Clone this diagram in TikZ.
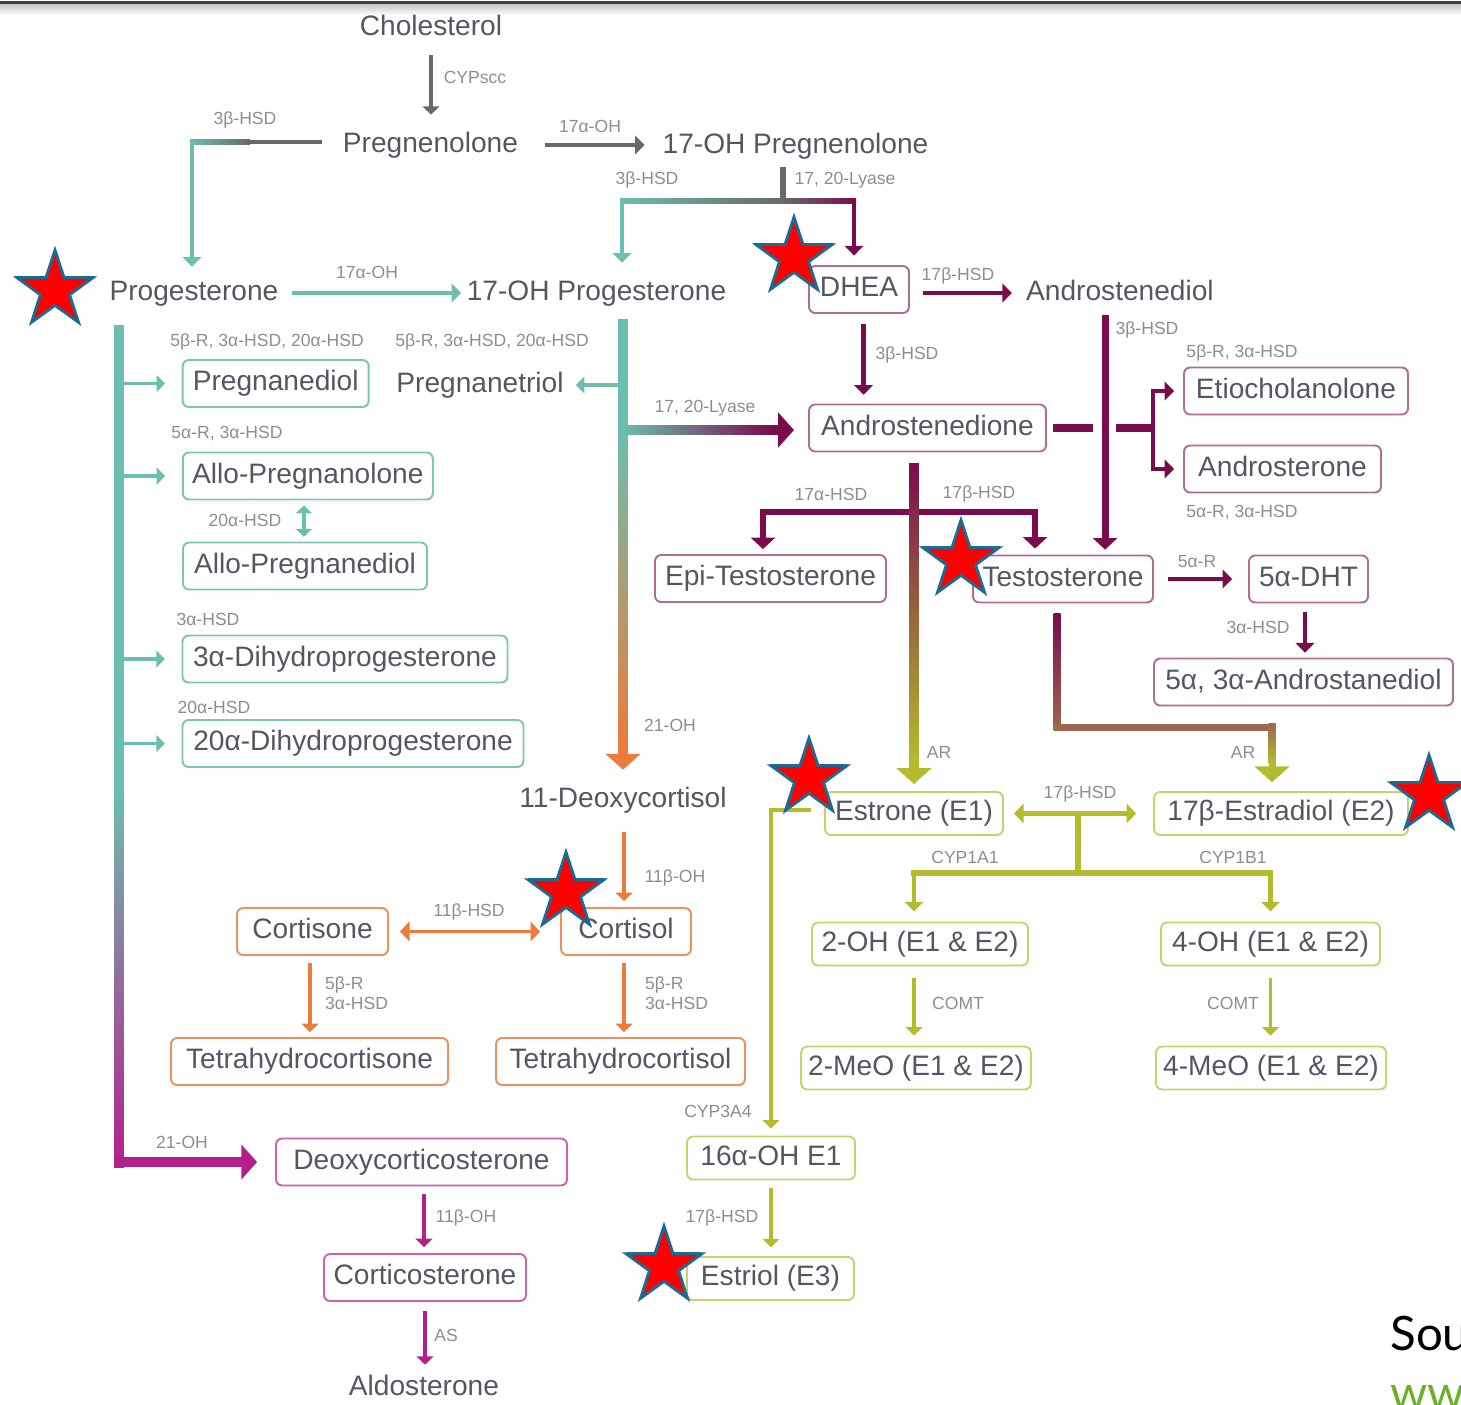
\documentclass[tikz,border=0pt]{standalone}
\usepackage{fontspec}
\setmainfont{Liberation Sans}
\newfontfamily\srcfont{Lato}
\usetikzlibrary{arrows.meta,calc,shapes.geometric}

\definecolor{cTeal}{RGB}{108,190,174}
\definecolor{cPlum}{RGB}{122,12,78}
\definecolor{cOrange}{RGB}{237,123,59}
\definecolor{cOlive}{RGB}{180,188,46}
\definecolor{cMag}{RGB}{181,31,140}
\definecolor{cGrey}{RGB}{104,104,106}
\definecolor{cBrown}{RGB}{158,104,80}
\definecolor{cText}{RGB}{84,86,98}
\definecolor{cLabel}{RGB}{140,140,150}
\definecolor{cStar}{RGB}{26,108,148}
\definecolor{cWeb}{RGB}{108,176,42}
\colorlet{bTeal}{cTeal!90!white}
\colorlet{bPlum}{cPlum!60!white}
\colorlet{bOrange}{cOrange!85!white}
\colorlet{bOlive}{cOlive!70!white}
\colorlet{bMag}{cMag!70!white}

% shaded straight pieces: from, to, first colour, second colour, width
\newcommand{\vgrad}[5]{\shade[top color=#3, bottom color=#4] let \p1=(#1), \p2=(#2) in (\x1-#5/2,\y1) rectangle (\x2+#5/2,\y2);}
\newcommand{\hgrad}[5]{\shade[left color=#3, right color=#4] let \p1=(#1), \p2=(#2) in (\x1,\y1-#5/2) rectangle (\x2,\y2+#5/2);}

\tikzset{
  chem/.style={font=\fontsize{16}{18}\selectfont, text=cText, text height=11.5pt, text depth=3.4pt, inner sep=3pt},
  cbox/.style={chem, draw=#1, line width=1.1pt, rounded corners=3.5pt, inner xsep=4pt, minimum height=0.94cm},
  obox/.style={cbox=#1, minimum height=0.86cm},
  wd/.style={minimum width=#1*0.02cm},
  enz/.style={font=\fontsize{10}{11.5}\selectfont, text=cLabel, inner sep=1pt},
  thinarrow/.style={-{Triangle[length=4.8pt,width=9.5pt]}, line width=1.8pt},
  arrow/.style={-{Triangle[length=5.5pt,width=10.5pt]}, line width=2.4pt},
  thickarrow/.style={-{Triangle[length=6.5pt,width=13.5pt]}, line width=3.6pt},
  fatarrow/.style={-{Triangle[length=9pt,width=19.5pt]}, line width=5.5pt},
  thindbl/.style={{Triangle[length=4.5pt,width=9pt]}-{Triangle[length=4.5pt,width=9pt]}, line width=1.8pt},
  dblarrow/.style={{Triangle[length=5.5pt,width=11pt]}-{Triangle[length=5.5pt,width=11pt]}, line width=2.6pt},
  hotstar/.style={star, star points=5, star point ratio=2.6, fill=red, draw=cStar, line width=1.6pt, minimum size=1.6cm, inner sep=0pt}
}

\begin{document}
\begin{tikzpicture}[x=0.02cm, y=-0.02cm]
\useasboundingbox (0,0) rectangle (1461,1404);
\clip (0,0) rectangle (1461,1404);
% top edge of the screen shot
\shade[top color=black!25, bottom color=white] (0,3) rectangle (1461,15);
\draw[line width=1.2pt, black!75] (0,2.5) -- (1461,2.5);

% plain names
\node[chem] (chol)    at (431,28)    {Cholesterol};
\node[chem] (pregn)   at (430.5,145) {Pregnenolone};
\node[chem] (ohpregn) at (795.5,146) {17-OH Pregnenolone};
\node[chem] (prog)    at (194,293)   {Progesterone};
\node[chem] (ohprog)  at (596.5,293) {17-OH Progesterone};
\node[chem] (andiol)  at (1120,293)  {Androstenediol};
\node[chem] (ptriol)  at (480,385)   {Pregnanetriol};
\node[chem] (deoxcol) at (623,800)   {11-Deoxycortisol};
\node[chem] (aldo)    at (424,1388)  {Aldosterone};

% framed names
\node[cbox=bPlum, wd=100]  (dhea)      at (859,289.5)    {DHEA};
\node[cbox=bTeal, wd=186]  (pdiol)     at (275.7,383.5)  {Pregnanediol};
\node[cbox=bTeal, wd=250]  (apolone)   at (307.8,476)    {Allo-Pregnanolone};
\node[cbox=bTeal, wd=244]  (apdiol)    at (305,566)      {Allo-Pregnanediol};
\node[cbox=bTeal, wd=325]  (dhp3)      at (345,659)      {3α-Dihydroprogesterone};
\node[cbox=bTeal, wd=341]  (dhp20)     at (353,743.5)    {20α-Dihydroprogesterone};
\node[cbox=bPlum, wd=237]  (adione)    at (927.5,428)    {Androstenedione};
\node[cbox=bPlum, wd=224]  (etio)      at (1296,391)     {Etiocholanolone};
\node[cbox=bPlum, wd=197]  (andro)     at (1282.5,469)   {Androsterone};
\node[cbox=bPlum, wd=231]  (epit)      at (770.5,578.5)  {Epi-Testosterone};
\node[cbox=bPlum, wd=180]  (testo)     at (1063,579)     {Testosterone};
\node[cbox=bPlum, wd=119]  (dht)       at (1308.5,579)   {5α-DHT};
\node[cbox=bPlum, wd=299]  (adiol53)   at (1303.5,682)   {5α, 3α-Androstanediol};
\node[obox=bOlive, wd=178] (estrone)   at (914,813.5)    {Estrone (E1)};
\node[obox=bOlive, wd=254] (estradiol) at (1281,813.5)   {17β-Estradiol (E2)};
\node[obox=bOlive, wd=216] (oh2)       at (920,944)      {2-OH (E1 \& E2)};
\node[obox=bOlive, wd=219] (oh4)       at (1270.5,944)   {4-OH (E1 \& E2)};
\node[obox=bOlive, wd=228] (meo2)      at (916,1068)     {2-MeO (E1 \& E2)};
\node[obox=bOlive, wd=230] (meo4)      at (1271,1068)    {4-MeO (E1 \& E2)};
\node[obox=bOlive, wd=168] (oh16)      at (771,1158)     {16α-OH E1};
\node[obox=bOlive, wd=167] (estriol)   at (770.5,1278.5) {Estriol (E3)};
\node[cbox=bOrange, wd=130] (cortisol)  at (626,931.5)    {Cortisol};
\node[cbox=bOrange, wd=151] (cortisone) at (312.5,931.5)  {Cortisone};
\node[cbox=bOrange, wd=277] (thcone)    at (309.5,1061.5) {Tetrahydrocortisone};
\node[cbox=bOrange, wd=249] (thcol)     at (620.5,1061.5) {Tetrahydrocortisol};
\node[cbox=bMag, wd=291]   (doc)       at (421.5,1162)   {Deoxycorticosterone};
\node[cbox=bMag, wd=202]   (corticost) at (425,1277.5)   {Corticosterone};

% grey start
\draw[thinarrow, cGrey, shorten <=4.9pt, shorten >=6.6pt] (chol.south) -- (chol.south |- pregn.north);
\draw[arrow, cGrey, shorten <=12pt, shorten >=7pt] (pregn.east) -- (pregn.east -| ohpregn.west);
\coordinate (pe) at (322,142);
\coordinate (pq) at (250,142);
\coordinate (pc) at (192,142);
\hgrad{$(pc)+(-2,0)$}{pq}{cTeal}{cGrey}{2.4pt}
\draw[line width=2.4pt, cGrey] (pq) -- (pe);
\draw[arrow, cTeal, shorten >=4.3pt] (pc) -- (pc |- prog.north);
\coordinate (hs) at (783,167);
\coordinate (hj) at (783,201);
\coordinate (hl) at (622,201);
\coordinate (hr) at (854,201);
\draw[line width=3.8pt, cGrey] (hs) -- ($(hj)+(0,2)$);
\hgrad{$(hl)+(-2,0)$}{hj}{cTeal}{cGrey}{2.4pt}
\hgrad{hj}{$(hr)+(2,0)$}{cGrey}{cPlum}{2.4pt}
\draw[arrow, cTeal, shorten >=6.6pt] (hl) -- (hl |- ohprog.north);
\draw[arrow, cPlum, shorten >=5.4pt] (hr) -- (hr |- dhea.north);
\draw[arrow, cTeal, shorten <=4.5pt] (prog) -- (ohprog);

% progesterone column
\coordinate (tv) at (119,325);
\coordinate (tm) at (119,790);
\coordinate (tb) at (119,1162);
\vgrad{tv}{tm}{cTeal}{cTeal}{5.6pt}
\vgrad{tm}{$(tb)+(0,5)$}{cTeal}{cMag}{5.6pt}
\draw[fatarrow, cMag, shorten >=10.2pt] ($(tb)+(-5,0)$) -- (doc);
\foreach \b in {pdiol,apolone,dhp3,dhp20}
  \draw[thinarrow, cTeal, shorten >=9.5pt] (\b.west -| tv) -- (\b.west);
\coordinate (al) at ([xshift=-2.2pt]apolone.south);
\draw[thindbl, cTeal, shorten <=2.8pt, shorten >=2.7pt] (al) -- (al |- apdiol.north);

% 17-OH progesterone column
\coordinate (ot) at (623,319);
\coordinate (om) at (623,430);
\coordinate (ob) at (623,752);
\vgrad{ot}{om}{cTeal}{cTeal}{5.6pt}
\vgrad{om}{ob}{cTeal}{cOrange}{5.6pt}
\draw[fatarrow, cOrange, shorten >=6.6pt] (ob) -- (ob |- deoxcol.north);
\draw[thinarrow, cTeal, shorten >=3.8pt] (ptriol.east -| ot) -- (ptriol.east);
\coordinate (lj) at (623,430);
\coordinate (lm) at (772,430);
\hgrad{lj}{lm}{cTeal}{cPlum}{5.6pt}
\draw[fatarrow, cPlum, shorten >=8pt] ($(lm)+(-1,0)$) -- (lm -| adione.west);

% androgens
\draw[arrow, cPlum, shorten <=7.4pt, shorten >=4.9pt] (dhea.east |- andiol.west) -- (andiol.west);
\coordinate (dd) at ([xshift=2.6pt]dhea.south);
\draw[arrow, cPlum, shorten <=5.7pt, shorten >=5pt] (dd) -- (dd |- adione.north);
\coordinate (ad) at ([xshift=-8.5pt]andiol.south);
\draw[thickarrow, line width=4pt, cPlum, shorten <=2pt, shorten >=2.8pt] (ad) -- (ad |- testo.north);
\coordinate (ag1) at (1093,428);
\coordinate (ag2) at (1116,428);
\coordinate (aj) at (1153,428);
\draw[line width=4pt, cPlum, shorten <=3.4pt] (adione.east) -- (ag1);
\draw[line width=4pt, cPlum] (ag2) -- ($(aj)+(1,0)$);
\draw[arrow, line width=2.8pt, cPlum, shorten >=5pt] (aj) |- (etio.west);
\draw[arrow, line width=2.8pt, cPlum, shorten >=5pt] (aj) |- (andro.west);
\coordinate (xb) at (914,512);
\coordinate (ex) at ([xshift=-4.3pt]epit.north);
\coordinate (tx) at ([xshift=-15.9pt]testo.north);
\draw[thickarrow, cPlum, shorten >=2.8pt] (xb) -| (ex);
\draw[thickarrow, cPlum, shorten >=3.4pt] (xb) -| (tx);
\coordinate (dt) at ([xshift=-7.6pt]adione.south);
\coordinate (dtop) at ($(dt)+(0,11)$);
\coordinate (dbot) at (914,762);
\vgrad{dtop}{dbot}{cPlum}{cOlive}{5.6pt}
\draw[fatarrow, cOlive, shorten >=4pt] ($(dbot)+(0,-1)$) -- (dbot |- estrone.north);
\draw[arrow, cPlum, shorten <=8pt, shorten >=9pt] (testo) -- (dht);
\coordinate (hx) at ([xshift=-2pt]dht.south);
\draw[arrow, cPlum, shorten <=5pt, shorten >=2.8pt] (hx) -- (hx |- adiol53.north);
\coordinate (t1) at ([xshift=-3.4pt,yshift=-5.7pt]testo.south);
\coordinate (t2) at ($(t1)+(0,114)$);
\coordinate (e2) at ([xshift=-5.1pt]estradiol.north);
\coordinate (t3) at (t2 -| e2);
\coordinate (t4) at ($(t3)+(0,36)$);
\vgrad{t1}{$(t2)+(0,3.5)$}{cPlum}{cBrown}{4pt}
\draw[line width=4pt, cBrown] ($(t2)+(-3.5,0)$) -- ($(t3)+(3.5,0)$);
\vgrad{$(t3)+(0,-3.5)$}{t4}{cBrown}{cOlive}{4pt}
\draw[fatarrow, line width=4pt, cOlive, shorten >=5pt] ($(t4)+(0,-1)$) -- (e2);

% estrogens
\draw[dblarrow, cOlive, shorten <=5.7pt, shorten >=9.6pt] (estrone) -- (estradiol);
\coordinate (oj) at (1078,813.5);
\coordinate (ok) at (1078,873);
\coordinate (o2) at ([xshift=-3.4pt]oh2.north);
\coordinate (ok2) at (ok -| o2);
\coordinate (ok4) at (ok -| oh4.north);
\draw[line width=3pt, cOlive] (oj) -- (ok);
\draw[line width=3.4pt, cOlive, line cap=rect] (ok2) -- (ok4);
\draw[arrow, cOlive, shorten >=5.7pt] (ok2) -- (o2);
\draw[arrow, cOlive, shorten >=5.7pt] (ok4) -- (oh4.north);
\coordinate (o2b) at ([xshift=-3.4pt]oh2.south);
\draw[thinarrow, cOlive, shorten <=6.8pt, shorten >=5.7pt] (o2b) -- (o2b |- meo2.north);
\draw[thinarrow, cOlive, shorten <=6.8pt, shorten >=5.7pt] (oh4.south) -- (oh4.south |- meo4.north);
\coordinate (e1) at ([xshift=-7.4pt,yshift=2pt]estrone.west);
\draw[thinarrow, cOlive, shorten >=4pt] (e1) -| (oh16.north);
\draw[thinarrow, cOlive, shorten <=4.5pt, shorten >=5pt] (oh16.south) -- (oh16.south |- estriol.north);

% corticoids
\coordinate (dc) at ([xshift=0.6pt]deoxcol.south);
\draw[thinarrow, cOrange, shorten <=7.7pt, shorten >=3.4pt] (dc) -- (dc |- cortisol.north);
\draw[dblarrow, line width=2.2pt, cOrange, shorten <=6.2pt, shorten >=11.3pt] (cortisone) -- (cortisol);
\coordinate (cn) at ([xshift=-1.4pt]cortisone.south);
\draw[thinarrow, cOrange, shorten <=4pt, shorten >=2.8pt] (cn) -- (cn |- thcone.north);
\coordinate (cl) at ([xshift=-1.1pt]cortisol.south);
\draw[thinarrow, cOrange, shorten <=4pt, shorten >=2.8pt] (cl) -- (cl |- thcol.north);
\coordinate (dm) at ([xshift=1.4pt]doc.south);
\draw[thinarrow, cMag, shorten <=4pt, shorten >=3.4pt] (dm) -- (dm |- corticost.north);
\draw[thinarrow, cMag, shorten <=5pt, shorten >=2.6pt] (corticost.south) -- (corticost.south |- aldo.north);

% enzyme labels
\node[enz] (lscc)  at (475,77)   {CYPscc};
\node[enz] (l3b1)  at (245,120)  {3β-HSD};
\node[enz] (l17a1) at (590,126)  {17α-OH};
\node[enz] (l3b2)  at (647,180)  {3β-HSD};
\node[enz] (lly1)  at (845,180)  {17, 20-Lyase};
\node[enz] (l17a2) at (367,272)  {17α-OH};
\node[enz] (l17b1) at (958,276)  {17β-HSD};
\node[enz] (lpd)   at (267,342)  {5β-R, 3α-HSD, 20α-HSD};
\node[enz] (lpt)   at (492,342)  {5β-R, 3α-HSD, 20α-HSD};
\node[enz] (lap)   at (227,433)  {5α-R, 3α-HSD};
\node[enz] (l20a1) at (245,520)  {20α-HSD};
\node[enz] (l3a1)  at (208,619)  {3α-HSD};
\node[enz] (l20a2) at (214,707)  {20α-HSD};
\node[enz] (lly2)  at (705,408)  {17, 20-Lyase};
\node[enz] (l3b3)  at (907,355)  {3β-HSD};
\node[enz] (l3b4)  at (1147,330) {3β-HSD};
\node[enz] (lec)   at (1242,353) {5β-R, 3α-HSD};
\node[enz] (lan)   at (1242,512) {5α-R, 3α-HSD};
\node[enz] (l17a3) at (831,494)  {17α-HSD};
\node[enz] (l17b2) at (979,494)  {17β-HSD};
\node[enz] (l5r)   at (1197,562) {5α-R};
\node[enz] (l3a2)  at (1258,627) {3α-HSD};
\node[enz] (l21a)  at (670,725)  {21-OH};
\node[enz] (lar1)  at (939,752)  {AR};
\node[enz] (lar2)  at (1243,752) {AR};
\node[enz] (l17b3) at (1080,794) {17β-HSD};
\node[enz] (lc1)   at (965,857)  {CYP1A1};
\node[enz] (lc2)   at (1233,857) {CYP1B1};
\node[enz] (lco1)  at (958,1003) {COMT};
\node[enz] (lco2)  at (1233,1003) {COMT};
\node[enz] (lc3)   at (718,1111) {CYP3A4};
\node[enz] (l17b4) at (722,1218) {17β-HSD};
\node[enz] (l11o1) at (675,878)  {11β-OH};
\node[enz] (l11h)  at (469,912)  {11β-HSD};
\node[enz, align=left, anchor=west] (lr1) at (323,993) {5β-R\\3α-HSD};
\node[enz, align=left, anchor=west] (lr2) at (643,993) {5β-R\\3α-HSD};
\node[enz] (l21b)  at (182,1142) {21-OH};
\node[enz] (l11o2) at (466,1218) {11β-OH};
\node[enz] (las)   at (446,1335) {AS};

% stars
\foreach \sx/\sy [count=\k] in {55/290, 794/257, 961/560, 809/778, 566/892, 1429/795, 664/1266}
  \node[hotstar] (star\k) at (\sx,\sy) {};

% source, cut by the frame as in the original
\node[anchor=base west, inner sep=0pt, font=\srcfont\fontsize{27}{30}\selectfont] (src) at (1390,1350) {Source:};
\node[anchor=base west, inner sep=0pt, font=\srcfont\fontsize{27}{30}\selectfont, text=cWeb] (web) at (1390,1409) {www};
\end{tikzpicture}
\end{document}
